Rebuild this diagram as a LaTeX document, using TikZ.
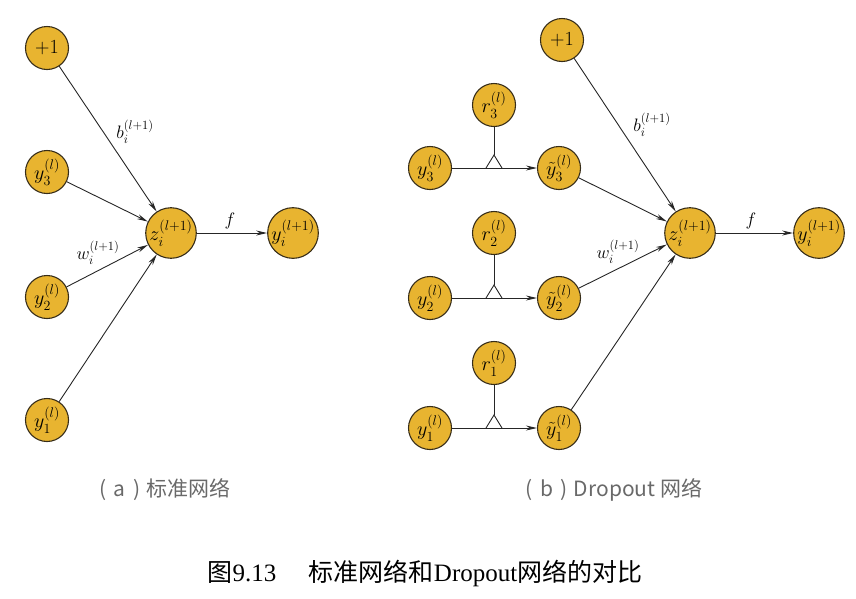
\RequirePackage{fix-cm}
\documentclass[tikz,border=0pt]{standalone}
\usepackage{fontspec}
\usepackage{amsmath}
\usetikzlibrary{arrows.meta, positioning}
\newfontfamily\cjk{Noto Sans CJK SC}
\newfontfamily\capserif{Liberation Serif}
\definecolor{unitfill}{RGB}{232,180,48}
\definecolor{unitdraw}{RGB}{55,45,25}
\definecolor{capgray}{RGB}{105,105,105}
\tikzset{
  unit/.style={circle, draw=unitdraw, fill=unitfill, line width=1.1pt, minimum size=43pt, inner sep=0pt, font=\fontsize{20}{20}\selectfont},
  link/.style={line width=0.9pt, draw=black!85, -{Stealth[length=11pt,width=5pt]}},
  wire/.style={line width=0.9pt, draw=black!85},
  wlbl/.style={inner sep=1pt, font=\fontsize{18}{18}\selectfont},
  subcap/.style={text=capgray, font=\cjk\fontsize{21}{21}\selectfont}
}

\begin{document}
\begin{tikzpicture}[x=1pt,y=-1pt]
  \useasboundingbox (0,0) rectangle (856,598);
  % (a) standard network
  \node[unit] (abias) at (47,48) {$+1$};
  \node[unit] (ay3) at (47,172) {$y_3^{(l)}$};
  \node[unit] (ay2) at (47,297) {$y_2^{(l)}$};
  \node[unit] (ay1) at (47,420) {$y_1^{(l)}$};
  \node[unit] (az) at (171,233) {$z_i^{(l+1)}$};
  \node[unit] (aout) at (293,233) {$y_i^{(l+1)}$};
  \draw[link] (abias) -- (az);
  \draw[link] (ay3) -- (az);
  \draw[link] (ay2) -- (az);
  \draw[link] (ay1) -- (az);
  \draw[link] (az) -- (aout);
  \node[wlbl] (ab) at (135,132) {$b_i^{(l+1)}$};
  \node[wlbl] (aw) at (98,253) {$w_i^{(l+1)}$};
  \node[wlbl] (af) at (230,221) {$f$};
  \node[subcap] (capa) at (165,490) {(\hspace{0.35em}a\hspace{0.35em})\hspace{0.3em}标准网络};

  % (b) dropout network: inputs, masks and thinned outputs
  \node[unit] (by3) at (430,168) {$y_3^{(l)}$};
  \node[unit] (by2) at (430,298) {$y_2^{(l)}$};
  \node[unit] (by1) at (430,428) {$y_1^{(l)}$};
  \node[unit] (br3) at (494,105) {$r_3^{(l)}$};
  \node[unit] (br2) at (494,233) {$r_2^{(l)}$};
  \node[unit] (br1) at (494,363) {$r_1^{(l)}$};
  \node[unit] (bt3) at (559,168) {$\tilde{y}_3^{(l)}$};
  \node[unit] (bt2) at (559,298) {$\tilde{y}_2^{(l)}$};
  \node[unit] (bt1) at (559,428) {$\tilde{y}_1^{(l)}$};
  \node[unit] (bbias) at (562,40) {$+1$};
  \node[unit] (bz) at (690,233) {$z_i^{(l+1)}$};
  \node[unit] (bout) at (819,233) {$y_i^{(l+1)}$};
  % mask junctions on the input lines
  \coordinate (bj3) at (494,168);
  \coordinate (bj2) at (494,298);
  \coordinate (bj1) at (494,428);
  \draw[link] (by3) -- (bt3);
  \draw[link] (by2) -- (bt2);
  \draw[link] (by1) -- (bt1);
  \draw[wire] (br3) -- ++(0,50) coordinate (bk3);
  \draw[wire] (br2) -- ++(0,52) coordinate (bk2);
  \draw[wire] (br1) -- ++(0,52) coordinate (bk1);
  \draw[wire] (bj3) ++(-8,0) -- (bk3) -- ++(8,13);
  \draw[wire] (bj2) ++(-8,0) -- (bk2) -- ++(8,13);
  \draw[wire] (bj1) ++(-8,0) -- (bk1) -- ++(8,13);
  % into the unit
  \draw[link] (bbias) -- (bz);
  \draw[link] (bt3) -- (bz);
  \draw[link] (bt2) -- (bz);
  \draw[link] (bt1) -- (bz);
  \draw[link] (bz) -- (bout);
  \node[wlbl] (bb) at (652,125) {$b_i^{(l+1)}$};
  \node[wlbl] (bw) at (618,252) {$w_i^{(l+1)}$};
  \node[wlbl] (bf) at (751,221) {$f$};
  \node[subcap] (capb) at (614,490) {(\hspace{0.35em}b\hspace{0.35em})\hspace{0.3em}Dropout 网络};

  % figure caption
  \node[font=\fontsize{25}{25}\selectfont] (figcap) at (425,573)
    {\cjk 图\capserif 9.13\hspace{1.3em}\cjk 标准网络和\capserif Dropout\cjk 网络的对比};
\end{tikzpicture}
\end{document}
